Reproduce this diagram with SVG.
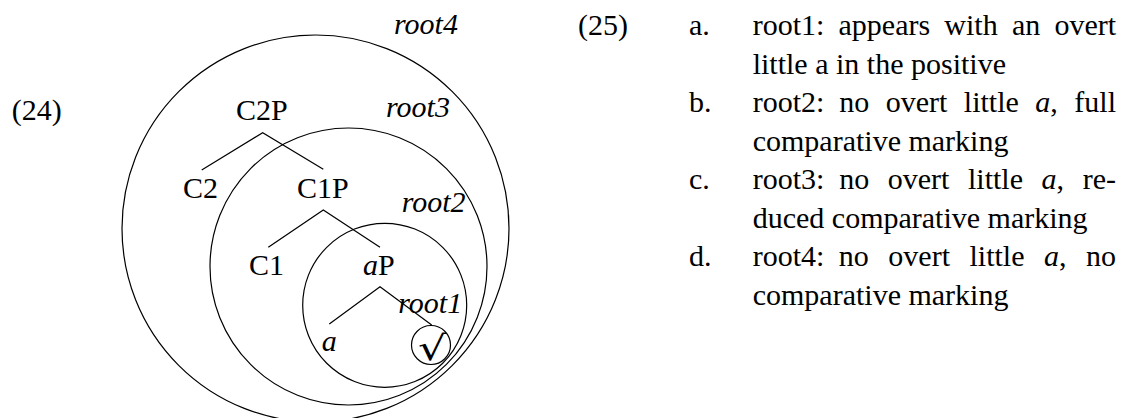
<svg xmlns="http://www.w3.org/2000/svg" width="1121" height="418" viewBox="0 0 1121 418">
<style>
text{font-family:"Liberation Serif","Times New Roman",serif;font-size:30px;fill:#000}
.it{font-style:italic}
.c{fill:none;stroke:#000;stroke-width:1.2}
.e{stroke:#000;stroke-width:1.2;fill:none}
.surd{font-family:"DejaVu Serif",serif;font-size:34px}
</style>
<rect width="1121" height="418" fill="#fff"/>
<g id="circles">
<circle id="c-root4" class="c" cx="315.5" cy="228.5" r="193.5"/>
<circle id="c-root3" class="c" cx="348.5" cy="266.5" r="138.5"/>
<circle id="c-root2" class="c" cx="384.7" cy="305.3" r="82"/>
<circle id="c-root1" class="c" cx="431" cy="345" r="19.5"/>
</g>
<g id="connectors">
<polyline class="e" points="201.7,170 262.7,132.7 323.3,169.3"/>
<polyline class="e" points="268.3,247.3 323.3,210 380,247.3"/>
<polyline class="e" points="329.3,324 380,286.7 431.7,325"/>
</g>
<text id="ex24" x="11.7" y="120">(24)</text>
<g id="n-C2P"><text x="236" y="120">C2P</text></g>
<g id="n-C2"><text x="183" y="198">C2</text></g>
<g id="n-C1P"><text x="297" y="198">C1P</text></g>
<g id="n-C1"><text x="249" y="275">C1</text></g>
<g id="n-aP"><text x="363" y="275"><tspan class="it">a</tspan>P</text></g>
<g id="n-a"><text class="it" x="321.7" y="351">a</text></g>
<g id="n-root"><text class="surd" transform="translate(432,360) scale(1.3,1)" x="0" y="0" text-anchor="middle">√</text></g>
<g id="labels">
<text class="it" x="394" y="34">root4</text>
<text class="it" x="386" y="116.7">root3</text>
<text class="it" x="401.7" y="211.7">root2</text>
<text class="it" x="398.3" y="313">root1</text>
</g>
<g id="ex25">
<text x="578" y="35">(25)</text>
<text x="689" y="35">a.</text>
<text x="752.7" y="35" word-spacing="6.7">root1: appears with an overt</text>
<text x="752.7" y="73.5">little a in the positive</text>
<text x="689" y="112">b.</text>
<text x="752.7" y="112">root2:</text>
<text x="1116" y="112" text-anchor="end" word-spacing="9">no overt little <tspan class="it">a</tspan>, full</text>
<text x="752.7" y="150.5">comparative marking</text>
<text x="689" y="189">c.</text>
<text x="752.7" y="189">root3:</text>
<text x="1116" y="189" text-anchor="end" word-spacing="11.1">no overt little <tspan class="it">a</tspan>, re-</text>
<text x="752.7" y="227.5">duced comparative marking</text>
<text x="689" y="266">d.</text>
<text x="752.7" y="266">root4:</text>
<text x="1116" y="266" text-anchor="end" word-spacing="12">no overt little <tspan class="it">a</tspan>, no</text>
<text x="752.7" y="304.5">comparative marking</text>
</g>
</svg>
